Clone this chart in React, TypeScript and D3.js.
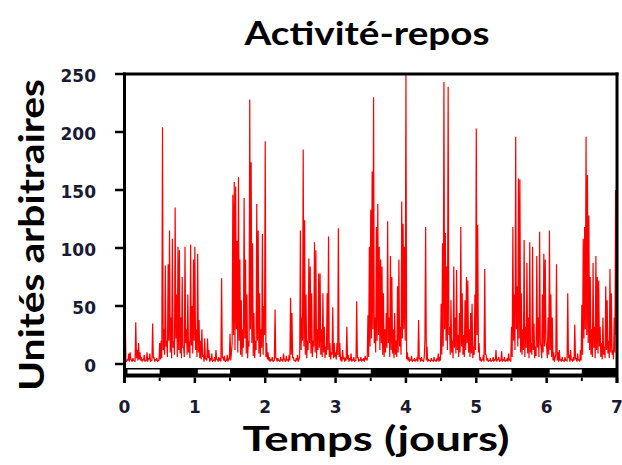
import React from "react";
import * as d3 from "d3";

// Activity peaks (arbitrary units), one sample every 0.02 day, one array per day
const day1 = [
  103, 3, 4, 9, 10, 3, 5, 3, 36, 12,
  18, 10, 6, 4, 8, 3, 10, 5, 9, 3,
  35, 6, 4, 5, 3, 18, 20, 204, 30, 85,
  20, 86, 115, 40, 108, 20, 135, 60, 101, 98,
  40, 75, 15, 101, 30, 60, 20, 103, 50, 90,
];
const day2 = [
  101, 30, 95, 38, 20, 30, 8, 22, 5, 22,
  12, 5, 9, 3, 6, 12, 4, 6, 5, 74,
  6, 7, 3, 8, 5, 26, 10, 146, 157, 153,
  106, 161, 90, 55, 30, 143, 90, 60, 20, 228,
  174, 104, 44, 20, 138, 115, 61, 30, 112, 50,
];
const day3 = [
  192, 18, 10, 6, 4, 6, 3, 47, 5, 5,
  3, 6, 4, 9, 3, 7, 4, 8, 57, 44,
  6, 3, 5, 8, 4, 115, 40, 185, 124, 60,
  20, 91, 84, 61, 20, 105, 98, 30, 78, 78,
  30, 61, 32, 15, 61, 110, 18, 10, 49, 18,
];
const day4 = [
  10, 18, 117, 18, 6, 12, 6, 5, 32, 8,
  5, 9, 4, 6, 3, 54, 6, 4, 6, 4,
  5, 7, 5, 42, 101, 133, 166, 230, 40, 118,
  138, 101, 90, 84, 61, 30, 44, 123, 40, 93,
  75, 30, 44, 20, 67, 90, 32, 140, 121, 101,
];
const day5 = [
  250, 10, 6, 4, 7, 3, 5, 4, 6, 38,
  5, 6, 3, 6, 118, 15, 4, 3, 5, 3,
  6, 3, 5, 9, 6, 52, 104, 243, 113, 84,
  239, 32, 55, 20, 84, 40, 81, 25, 44, 118,
  61, 25, 55, 75, 72, 30, 44, 52, 15, 60,
];
const day6 = [
  203, 120, 18, 6, 4, 8, 82, 8, 5, 3,
  5, 3, 6, 4, 12, 4, 6, 3, 11, 4,
  6, 3, 5, 9, 4, 32, 118, 60, 196, 67,
  160, 159, 61, 30, 107, 32, 87, 40, 105, 18,
  101, 35, 15, 93, 40, 114, 15, 60, 95, 90,
];
const day7 = [
  15, 40, 115, 60, 40, 10, 5, 86, 10, 12,
  4, 6, 3, 6, 4, 61, 8, 12, 4, 6,
  34, 5, 9, 4, 12, 51, 108, 118, 196, 163,
  128, 75, 30, 87, 32, 93, 75, 72, 32, 18,
  40, 15, 67, 55, 20, 82, 61, 12, 40, 150,
];
const finalValue = [67];

// Activity troughs (floor of the trace), sampled halfway between the peaks above
const trough1 = [
  40, 2, 3, 2, 4, 2, 3, 2, 5, 3, 4, 3, 2, 3, 2, 3, 2, 4, 2, 3,
  5, 2, 3, 2, 3, 4, 5, 12, 8, 15, 6, 20, 10, 5, 14, 8, 22, 6, 12, 9,
  5, 14, 6, 18, 8, 10, 5, 16, 9, 20,
];
const trough2 = [
  12, 6, 10, 5, 4, 6, 2, 4, 3, 5, 2, 3, 2, 3, 2, 4, 2, 3, 2, 5,
  3, 2, 3, 2, 4, 3, 18, 25, 12, 30, 10, 20, 8, 6, 14, 22, 9, 5, 15, 30,
  18, 7, 5, 12, 20, 9, 6, 14, 8, 25,
];
const trough3 = [
  6, 4, 3, 2, 3, 2, 3, 5, 2, 3, 2, 3, 2, 4, 2, 3, 2, 3, 8, 5,
  3, 2, 3, 2, 6, 12, 20, 15, 8, 5, 12, 18, 9, 6, 15, 10, 5, 12, 14, 8,
  6, 10, 5, 8, 12, 6, 4, 8, 5, 6,
];
const trough4 = [
  4, 8, 6, 3, 2, 4, 2, 3, 4, 2, 3, 2, 3, 2, 3, 5, 2, 3, 2, 3,
  2, 4, 3, 6, 15, 22, 30, 18, 10, 20, 25, 12, 18, 8, 6, 10, 14, 18, 6, 12,
  9, 5, 8, 6, 10, 15, 8, 22, 30, 20,
];
const trough5 = [
  4, 3, 2, 3, 2, 3, 2, 3, 2, 4, 2, 3, 2, 20, 3, 2, 3, 2, 3, 2,
  3, 2, 3, 2, 3, 8, 15, 30, 20, 12, 25, 8, 10, 5, 14, 9, 12, 6, 10, 15,
  8, 6, 12, 18, 10, 6, 9, 5, 8, 12,
];
const trough6 = [
  25, 10, 3, 2, 3, 2, 8, 3, 2, 3, 2, 3, 2, 3, 2, 4, 2, 3, 2, 3,
  2, 3, 2, 3, 2, 6, 20, 12, 30, 15, 22, 10, 8, 12, 6, 14, 9, 5, 10, 8,
  12, 5, 7, 14, 6, 18, 5, 10, 15, 20,
];
const trough7 = [
  5, 8, 12, 6, 3, 2, 8, 3, 2, 3, 2, 3, 2, 3, 2, 5, 2, 3, 2, 3,
  4, 2, 3, 2, 3, 8, 22, 30, 25, 18, 12, 8, 6, 14, 5, 12, 9, 15, 6, 4,
  8, 5, 12, 9, 5, 10, 8, 4, 10, 25,
];

const sampleStep = 0.02;
const xTicks = [0, 1, 2, 3, 4, 5, 6, 7];
const xMinorTicks = [0.5, 1.5, 2.5, 3.5, 4.5, 5.5, 6.5];
const yTicks = [0, 50, 100, 150, 200, 250];
const lightPhases = [0, 1, 2, 3, 4, 5, 6]; // light from day k to k+0.5

const title = "Activité-repos";
const xLabel = "Temps (jours)";
const yLabel = "Unités arbitraires";

export default function App() {
  const W = 622;
  const H = 465;
  const left = 124.5;
  const right = 617;
  const top = 74;
  const zeroY = 364;

  const x = d3.scaleLinear().domain([0, 7]).range([left, right]);
  const y = d3.scaleLinear().domain([0, 250]).range([zeroY, top]);

  const peaks = [...day1, ...day2, ...day3, ...day4, ...day5, ...day6, ...day7, ...finalValue];
  const troughs = [...trough1, ...trough2, ...trough3, ...trough4, ...trough5, ...trough6, ...trough7];
  const data: { t: number; v: number }[] = [];
  peaks.forEach((v, i) => {
    data.push({ t: i * sampleStep, v });
    if (i < troughs.length) data.push({ t: i * sampleStep + sampleStep / 2, v: troughs[i] });
  });
  const line = d3
    .line<{ t: number; v: number }>()
    .x((d) => x(d.t))
    .y((d) => y(d.v));

  const barTop = 368;
  const barBottom = 377.5;
  const tickFont = "'DejaVu Sans', sans-serif";
  const titleFont = "Lato, 'Open Sans', sans-serif";

  return (
    <svg
      width={W}
      height={H}
      style={{ position: "absolute", left: 0, top: 0, background: "#fff" }}
    >
      <rect x={0} y={0} width={W} height={H} fill="#fff" />
      <text
        x={367}
        y={45}
        textAnchor="middle"
        fontFamily={titleFont}
        fontWeight={700}
        fontSize={33}
        textLength={245}
        lengthAdjust="spacingAndGlyphs"
        fill="#000"
      >
        {title}
      </text>

      {/* data trace */}
      <path
        d={line(data) || ""}
        fill="none"
        stroke="#ff0000"
        strokeWidth={1.2}
        strokeLinejoin="bevel"
      />

      {/* light-dark bar */}
      <rect x={left - 1} y={barTop} width={right - left + 2} height={barBottom - barTop} fill="#000" />
      {lightPhases.map((k) => (
        <rect
          key={k}
          x={x(k) + 3}
          y={369.5}
          width={x(k + 0.5) - x(k) - 3}
          height={4}
          fill="#fff"
        />
      ))}

      {/* frame */}
      <line x1={left - 1.5} x2={right + 1.5} y1={top} y2={top} stroke="#000" strokeWidth={3} />
      <line x1={left} x2={left} y1={top - 1.5} y2={383} stroke="#000" strokeWidth={3} />
      <line x1={right} x2={right} y1={top - 1.5} y2={383} stroke="#000" strokeWidth={3} />

      {/* y ticks */}
      {yTicks.map((t) => (
        <g key={t}>
          <line x1={115} x2={left} y1={y(t)} y2={y(t)} stroke="#000" strokeWidth={2.5} />
          <text
            x={96}
            y={y(t) + 2}
            dy="0.36em"
            textAnchor="end"
            fontFamily={tickFont}
            fontWeight={700}
            fontSize={17}
            fill="#1a1a33"
          >
            {t}
          </text>
        </g>
      ))}

      {/* x ticks */}
      {xTicks.map((t) => (
        <g key={t}>
          <line x1={x(t)} x2={x(t)} y1={barBottom} y2={383} stroke="#000" strokeWidth={2.5} />
          <text
            x={x(t)}
            y={412.5}
            textAnchor="middle"
            fontFamily={tickFont}
            fontWeight={700}
            fontSize={17}
            fill="#1a1a33"
          >
            {t}
          </text>
        </g>
      ))}
      {xMinorTicks.map((t) => (
        <line key={t} x1={x(t)} x2={x(t)} y1={barBottom} y2={381} stroke="#000" strokeWidth={2} />
      ))}

      <text
        x={376}
        y={451}
        textAnchor="middle"
        fontFamily={titleFont}
        fontWeight={700}
        fontSize={34}
        textLength={267}
        lengthAdjust="spacingAndGlyphs"
        fill="#000"
      >
        {xLabel}
      </text>
      <text
        transform="translate(44,235) rotate(-90)"
        textAnchor="middle"
        fontFamily={titleFont}
        fontWeight={700}
        fontSize={34}
        textLength={312}
        lengthAdjust="spacingAndGlyphs"
        fill="#000"
      >
        {yLabel}
      </text>
    </svg>
  );
}
